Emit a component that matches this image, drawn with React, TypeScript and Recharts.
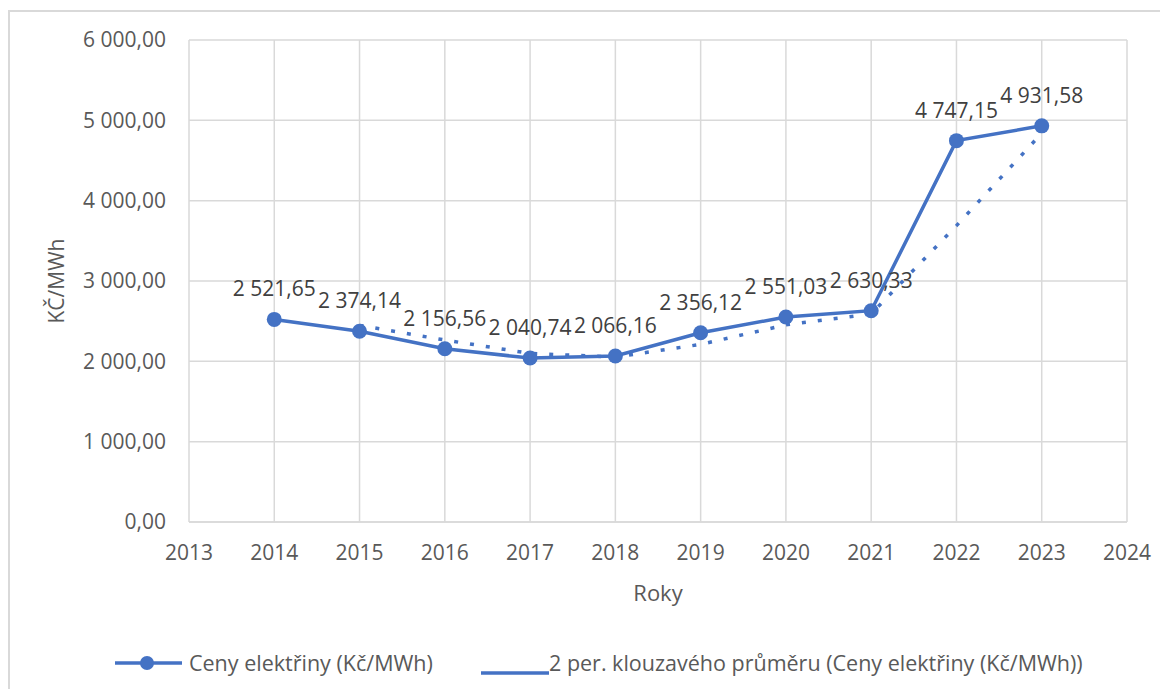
import React from 'react';
import { LineChart, Line, XAxis, YAxis, CartesianGrid, LabelList, Legend } from 'recharts';

const years = [2014, 2015, 2016, 2017, 2018, 2019, 2020, 2021, 2022, 2023];
const prices = [2521.65, 2374.14, 2156.56, 2040.74, 2066.16, 2356.12, 2551.03, 2630.33, 4747.15, 4931.58];
const maYears = [2015, 2016, 2017, 2018, 2019, 2020, 2021, 2022, 2023];
const maValues = [2447.9, 2265.35, 2098.65, 2053.45, 2211.14, 2453.58, 2590.68, 3688.74, 4839.37];
const xTicks = [2013, 2014, 2015, 2016, 2017, 2018, 2019, 2020, 2021, 2022, 2023, 2024];
const yTicks = [0, 1000, 2000, 3000, 4000, 5000, 6000];
const seriesNames = ['Ceny elektřiny (Kč/MWh)', '2 per. klouzavého průměru (Ceny elektřiny (Kč/MWh))'];
const xTitle = 'Roky';
const yTitle = 'KČ/MWh';

const priceData = years.map((y, i) => ({ year: y, price: prices[i] }));
const maData = maYears.map((y, i) => ({ year: y, ma: maValues[i] }));

const BLUE = '#4472C4';
const FONT = '"Open Sans", sans-serif';
const GRID = '#d9d9d9';

const fmt = (v: number) => {
  const [i, d] = Number(v).toFixed(2).split('.');
  return i.replace(/\B(?=(\d{3})+(?!\d))/g, ' ') + ',' + d;
};

const LegendContent = () => (
  <svg width={1152} height={40} style={{ position: 'absolute', left: 0, top: 0, overflow: 'visible' }}>
    <line x1={107} x2={174} y1={15} y2={15} stroke={BLUE} strokeWidth={3.5} />
    <circle cx={139} cy={15} r={7} fill={BLUE} />
    <text x={181} y={15} dy="0.35em" fontFamily={FONT} fontSize={21.5} fill="#595959">{seriesNames[0]}</text>
    <line x1={473} x2={541} y1={25} y2={25} stroke={BLUE} strokeWidth={3.5} />
    <text x={541} y={15} dy="0.35em" fontFamily={FONT} fontSize={21.5} fill="#595959">{seriesNames[1]}</text>
  </svg>
);

export default function App() {
  return (
    <div style={{ position: 'relative', width: 1152, height: 681, overflow: 'hidden', background: '#fff' }}>
      <div style={{ position: 'absolute', left: 0, top: 2, width: 1300, height: 900, border: `2px solid ${GRID}`, boxSizing: 'border-box', pointerEvents: 'none' }} />
      <LineChart width={1152} height={681} margin={{ top: 32, right: 33, left: 0, bottom: 107 }}>
        <CartesianGrid stroke={GRID} strokeWidth={1.5} />
        <XAxis
          dataKey="year"
          type="number"
          domain={[2013, 2024]}
          ticks={xTicks}
          allowDuplicatedCategory={false}
          height={60}
          tickLine={false}
          tickMargin={17}
          axisLine={{ stroke: GRID, strokeWidth: 1.5 }}
          tick={{ fontFamily: FONT, fontSize: 21, fill: '#595959' }}
          label={{
            content: (props: any) => {
              const vb = props.viewBox;
              const cx = vb.x + vb.width / 2;
              const cy = vb.y + 71;
              return (
                <text x={cx} y={cy} dy="0.35em" textAnchor="middle" fontFamily={FONT} fontSize={22} fill="#595959">{xTitle}</text>
              );
            },
          }}
        />
        <YAxis
          type="number"
          domain={[0, 6000]}
          ticks={yTicks}
          width={181}
          tickLine={false}
          axisLine={false}
          tickMargin={17}
          tickFormatter={fmt}
          tick={{ fontFamily: FONT, fontSize: 21, fill: '#595959' }}
          label={{
            content: (props: any) => {
              const vb = props.viewBox;
              const cx = vb.x + 49;
              const cy = vb.y + vb.height / 2;
              return (
                <text x={cx} y={cy} dy="0.35em" textAnchor="middle" transform={`rotate(-90 ${cx} ${cy})`} fontFamily={FONT} fontSize={21} fill="#595959">{yTitle}</text>
              );
            },
          }}
        />
        <Line
          data={maData}
          dataKey="ma"
          name={seriesNames[1]}
          stroke={BLUE}
          strokeWidth={3.5}
          strokeDasharray="4 12"
          dot={false}
          activeDot={false}
          isAnimationActive={false}
        />
        <Line
          data={priceData}
          dataKey="price"
          name={seriesNames[0]}
          stroke={BLUE}
          strokeWidth={3.5}
          dot={{ r: 7.5, fill: BLUE, stroke: BLUE, strokeWidth: 0 }}
          activeDot={false}
          isAnimationActive={false}
        >
          <LabelList dataKey="price" position="top" offset={23} formatter={(v: any) => fmt(v)} style={{ fontFamily: FONT, fontSize: 21, fill: '#404040' }} />
        </Line>
        <Legend content={<LegendContent />} wrapperStyle={{ left: 0, top: 640, width: 1152, height: 0 }} />
      </LineChart>
    </div>
  );
}
